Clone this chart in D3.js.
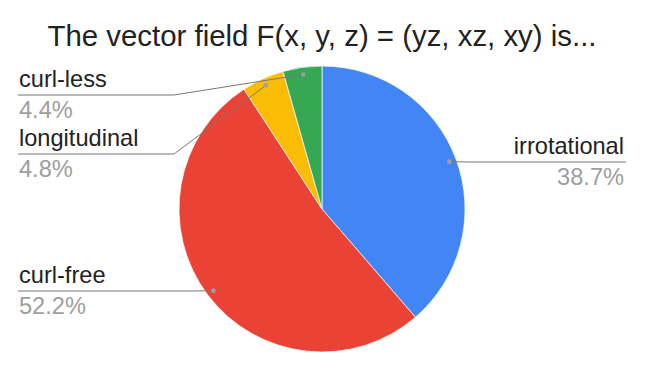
<!DOCTYPE html>
<html>
<head>
<meta charset="utf-8">
<script src="https://cdn.jsdelivr.net/npm/d3@7"></script>
<style>
  body { margin: 0; background: #fff; }
  text { font-family: Arial, "Liberation Sans", sans-serif; }
</style>
</head>
<body>
<div id="chart"></div>
<script>
// chart data
const categories = ["irrotational", "curl-free", "longitudinal", "curl-less"]
const shares = [38.7, 52.2, 4.8, 4.4]
const colors = ["#4285f4", "#ea4335", "#fbbc04", "#34a853"]
const title = "The vector field F(x, y, z) = (yz, xz, xy) is..."

const width = 645, height = 371
const cx = 322, cy = 209, radius = 143

// where each label block sits: side and the y of its leader line
const labelSpots = [
  { side: "right", lineY: 162 },
  { side: "left", lineY: 291 },
  { side: "left", lineY: 154 },
  { side: "left", lineY: 95 }
]

const svg = d3.select("#chart").append("svg")
  .attr("width", width)
  .attr("height", height)

svg.append("text")
  .attr("x", cx)
  .attr("y", 46)
  .attr("text-anchor", "middle")
  .style("font-size", "29.4px")
  .style("fill", "#222")
  .text(title)

const pie = d3.pie().sort(null).value(d => d)
const arcs = pie(shares)

const arc = d3.arc().innerRadius(0).outerRadius(radius)
const dotArc = d3.arc().innerRadius(radius * 0.95).outerRadius(radius * 0.95)

const g = svg.append("g").attr("transform", "translate(" + cx + "," + cy + ")")

g.selectAll("path.slice")
  .data(arcs)
  .enter().append("path")
  .attr("class", "slice")
  .attr("d", arc)
  .style("fill", (d, i) => colors[i])
  .style("stroke", "#fff")
  .style("stroke-width", 0.7)

// leader lines + labels
arcs.forEach(function(d, i) {
  let p = dotArc.centroid(d)
  let dotX = cx + p[0], dotY = cy + p[1]
  let spot = labelSpots[i]
  let pts
  if (spot.side == "right") {
    pts = [[dotX, dotY], [dotX + 20, spot.lineY], [626, spot.lineY]]
  } else {
    let elbow = Math.abs(dotY - spot.lineY) < 2 ? dotX - 20 : 174
    pts = [[dotX, dotY], [elbow, spot.lineY], [18, spot.lineY]]
  }
  svg.append("path")
    .attr("d", d3.line()(pts))
    .style("fill", "none")
    .style("stroke", "#777")
    .style("stroke-width", 1)
  svg.append("circle")
    .attr("cx", dotX)
    .attr("cy", dotY)
    .attr("r", 2.3)
    .style("fill", "#9e9e9e")

  let tx = spot.side == "right" ? 624 : 19
  let anchor = spot.side == "right" ? "end" : "start"
  svg.append("text")
    .attr("x", tx)
    .attr("y", spot.lineY - 8.5)
    .attr("text-anchor", anchor)
    .style("font-size", "23.6px")
    .style("fill", "#222")
    .text(categories[i])
  svg.append("text")
    .attr("x", tx)
    .attr("y", spot.lineY + 23)
    .attr("text-anchor", anchor)
    .style("font-size", "23.6px")
    .style("fill", "#9e9e9e")
    .text(shares[i].toFixed(1) + "%")
})
</script>
</body>
</html>
